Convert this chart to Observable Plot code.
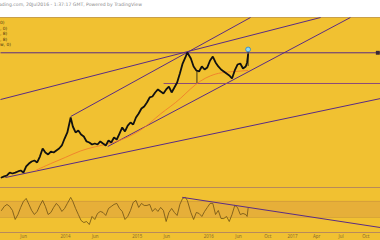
<!DOCTYPE html>
<html><head><meta charset="utf-8">
<script src="https://cdn.jsdelivr.net/npm/d3@7"></script>
<script src="https://cdn.jsdelivr.net/npm/@observablehq/plot@0.6"></script>
<style>
html,body{margin:0;padding:0;background:#fff;}
#wrap{position:relative;width:380px;height:240px;overflow:hidden;font-family:"DejaVu Sans",sans-serif;}
#header{height:17px;background:#fff;position:relative;}
#header span{position:absolute;left:-1px;top:2px;font-size:4.6px;color:#8a8a8a;white-space:nowrap;}
#price{position:relative;height:170px;background:#f1c131;box-shadow:inset 0 1px 0 #c9a048;}
#rsi{position:relative;height:53px;background:#f1c131;box-shadow:inset 0 1px 0 #b88a5a;}
#legend{position:absolute;left:0;top:3px;font-size:4.4px;color:#4a3610;line-height:5.6px;}
svg{display:block;}
</style></head>
<body><div id="wrap">
<div id="header"><span id="hdr"></span></div>
<div id="price"><div id="legend"></div></div>
<div id="rsi"></div>
</div>
<script>
const headerText = "ading.com, 20Jul2016 - 1:37:17 GMT, Powered by TradingView";
const legendLines = ["0)", ", 0)", ", 8)", ", 8)", "w, 0)"];

// biweekly observation dates
const dates = ["2013-02-08","2013-02-22","2013-03-08","2013-03-22","2013-04-05","2013-04-19","2013-05-03","2013-05-17","2013-05-31","2013-06-14","2013-06-28","2013-07-12","2013-07-26","2013-08-09","2013-08-23","2013-09-06","2013-09-20","2013-10-04","2013-10-18","2013-11-01","2013-11-15","2013-11-29","2013-12-13","2013-12-27",
"2014-01-10","2014-01-27","2014-02-07","2014-02-21","2014-03-07","2014-03-21","2014-04-04","2014-04-18","2014-05-02","2014-05-16","2014-05-30","2014-06-13","2014-06-27","2014-07-11","2014-07-25","2014-08-08","2014-08-22","2014-09-05","2014-09-19","2014-10-03","2014-10-17","2014-10-31","2014-11-14","2014-11-28","2014-12-12","2014-12-26",
"2015-01-09","2015-01-23","2015-02-06","2015-02-20","2015-03-06","2015-03-20","2015-04-03","2015-04-17","2015-05-01","2015-05-15","2015-05-29","2015-06-12","2015-06-26","2015-07-10","2015-07-24","2015-08-07","2015-08-21","2015-09-04","2015-09-14","2015-10-02","2015-10-16","2015-10-30","2015-11-13","2015-11-27","2015-12-11","2015-12-25",
"2016-01-08","2016-01-22","2016-02-05","2016-02-19","2016-03-04","2016-03-18","2016-04-01","2016-04-15","2016-04-29","2016-05-13","2016-05-27","2016-06-10","2016-06-24","2016-07-08","2016-07-15","2016-07-20"];

const close = [1.769,1.780,1.790,1.820,1.810,1.820,1.831,1.841,1.820,1.882,1.912,1.933,1.943,1.923,1.984,2.066,2.025,2.005,2.035,2.025,2.046,2.066,2.097,2.168,
2.230,2.383,2.291,2.230,2.250,2.209,2.189,2.138,2.127,2.107,2.117,2.107,2.138,2.117,2.097,2.148,2.127,2.178,2.158,2.219,2.281,2.240,2.301,2.332,2.311,2.383,
2.424,2.475,2.496,2.537,2.588,2.598,2.639,2.670,2.649,2.629,2.670,2.700,2.639,2.690,2.741,2.833,2.935,2.997,3.048,2.987,2.905,2.864,2.854,2.905,2.874,2.895,
2.966,3.007,2.946,2.905,2.874,2.854,2.833,2.813,2.782,2.864,2.925,2.935,2.884,2.905,2.946,3.028];

const rsi = [53.1,60.6,64.4,60.6,53.1,36.3,45.6,58.8,70.0,75.6,64.4,53.1,45.6,51.3,62.5,71.9,60.6,45.6,49.4,58.8,66.3,60.6,51.3,56.9,
66.3,77.5,70.0,56.9,45.6,34.4,30.6,32.5,26.9,41.9,36.3,47.5,51.3,49.4,43.8,56.9,60.6,64.4,66.3,56.9,51.3,36.3,41.9,53.1,68.1,71.9,
58.8,66.3,62.5,62.5,64.4,51.3,56.9,51.3,58.8,53.1,32.5,49.4,56.9,49.4,43.8,64.4,75.6,77.5,71.9,49.4,36.3,49.4,47.5,41.9,51.3,58.8,
66.3,66.3,45.6,53.1,38.1,38.1,41.9,32.5,45.6,62.5,58.8,45.6,47.5,45.6,41.9,56.9];

// moving average (orange)
const maDates = ["2013-08-01","2013-10-16","2014-01-01","2014-03-18","2014-06-03","2014-08-19","2014-11-03","2015-01-19","2015-03-11","2015-05-01","2015-06-21","2015-08-11","2015-10-01","2015-11-21","2016-01-11","2016-03-02","2016-05-18","2016-07-18"];
const maValues = [1.841,1.912,1.974,2.046,2.086,2.117,2.168,2.250,2.332,2.424,2.496,2.577,2.680,2.762,2.813,2.844,2.854,2.864];

// long wicks
const wickDates = ["2015-11-02","2016-07-20"];
const wickLow = [2.731,2.905];
const wickHigh = [2.864,3.079];

// trend lines (price panel)
const trendX1 = ["2014-01-27","2013-02-03","2014-08-04","2013-02-28","2015-05-16","2013-02-03"];
const trendY1 = [2.393,2.567,2.086,1.769,2.731,3.045];
const trendX2 = ["2016-07-29","2017-04-16","2017-08-05","2017-11-25","2017-11-25","2017-11-25"];
const trendY2 = [3.406,3.406,3.406,2.577,2.731,3.045];
const trendColor = ["#5a2c84","#5a2c84","#5a2c84","#5a2c84","#8a4a7a","#5a2c84"];

// RSI trend line and band
const rsiTrendX = ["2015-08-21","2017-11-25"];
const rsiTrendY = [77.5,21.25];
const rsiBand = [40,70];

// markers
const markerDate = "2016-07-20", markerPrice = 3.079;
const endTagDate = "2017-11-15", endTagPrice = 3.045;

// x-axis ticks
const tickDates = ["2013-06-01","2014-01-01","2014-06-01","2015-01-01","2015-06-01","2016-01-01","2016-06-01","2016-10-01","2017-01-01","2017-04-01","2017-07-01","2017-10-01"];
const tickLabels = ["Jun","2014","Jun","2015","Jun","2016","Jun","Oct","2017","Apr","Jul","Oct"];

const D = s => new Date(s + "T00:00:00Z");
const xScale = {type:"utc", domain:[D("2013-02-03"), D("2016-07-20"), D("2017-11-25")], range:[0,247.6,380]};

document.getElementById("hdr").textContent = headerText;
document.getElementById("legend").innerHTML = legendLines.map(t=>`<div>${t}</div>`).join("");

const series = dates.map((d,i)=>({date:D(d), close:close[i], rsi:rsi[i]}));
const ma = maDates.map((d,i)=>({date:D(d), v:maValues[i]}));
const wicks = wickDates.map((d,i)=>({date:D(d), lo:wickLow[i], hi:wickHigh[i]}));
const trends = trendX1.map((d,i)=>({x1:D(d), y1:trendY1[i], x2:D(trendX2[i]), y2:trendY2[i], c:trendColor[i]}));

const pricePlot = Plot.plot({
  width:380, height:170, margin:0,
  x:{...xScale, axis:null},
  y:{domain:[1.667,3.406], axis:null},
  style:{background:"transparent", overflow:"visible"},
  marks:[
    Plot.link(trends, {x1:"x1", y1:"y1", x2:"x2", y2:"y2", stroke:"c", strokeWidth:1}),
    Plot.line(ma, {x:"date", y:"v", stroke:"#f0762c", strokeWidth:0.8, curve:"basis"}),
    Plot.ruleX(wicks, {x:"date", y1:"lo", y2:"hi", stroke:"#111", strokeWidth:0.8}),
    Plot.line(series, {x:"date", y:"close", stroke:"#111", strokeWidth:1.8, strokeLinejoin:"miter"}),
    Plot.dot([{date:D(markerDate), p:markerPrice}], {x:"date", y:"p", r:2.4, fill:"#8fd9f7", stroke:"#2b82c4", strokeWidth:0.8}),
    Plot.dot([{date:D(endTagDate), p:endTagPrice}], {x:"date", y:"p", r:2.2, symbol:"square", fill:"#3b2a36"})
  ]
});
document.getElementById("price").appendChild(pricePlot);

const rsiPlot = Plot.plot({
  width:380, height:53, marginTop:0, marginBottom:8, marginLeft:0, marginRight:0,
  x:{...xScale, ticks:tickDates.map(D), tickFormat:(d,i)=>tickLabels[i], tickSize:0, tickPadding:2.5, label:null},
  y:{domain:[12,96], axis:null},
  style:{background:"transparent", fontSize:"4.4px", color:"#8a6a2a", overflow:"visible"},
  marks:[
    Plot.rect([rsiBand], {x1:D("2013-02-03"), x2:D("2017-11-25"), y1:d=>d[0], y2:d=>d[1], fill:"#e2a83c", fillOpacity:0.75}),
    Plot.ruleY(rsiBand, {stroke:"#c9933a", strokeWidth:0.6}),
    Plot.ruleY([12], {stroke:"#b88a5a", strokeWidth:1}),
    Plot.line(series, {x:"date", y:"rsi", stroke:"#6d5014", strokeWidth:0.8}),
    Plot.line(rsiTrendX.map((d,i)=>({date:D(d), v:rsiTrendY[i]})), {x:"date", y:"v", stroke:"#5a2c84", strokeWidth:1})
  ]
});
document.getElementById("rsi").appendChild(rsiPlot);
</script>
</body></html>
